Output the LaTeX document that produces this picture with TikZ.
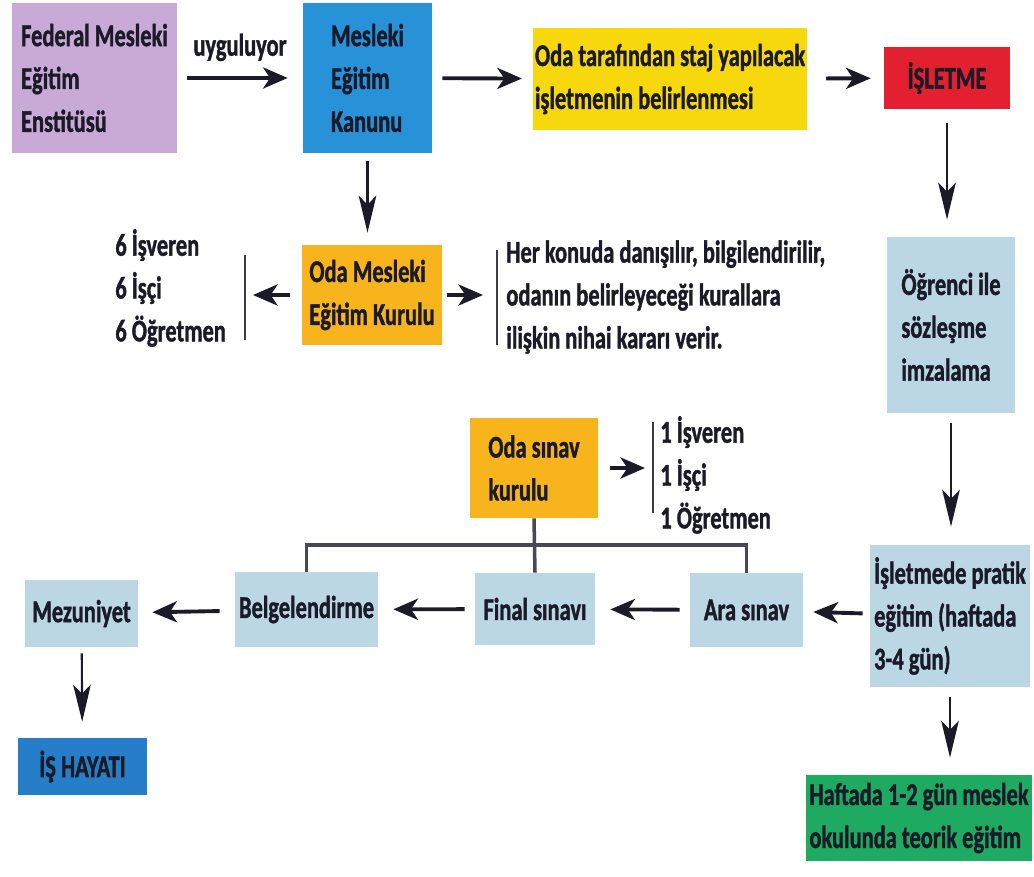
\documentclass[tikz,border=0pt]{standalone}
\usepackage{fontspec}
\setmainfont{Carlito}[FakeStretch=0.71,BoldFeatures={FakeBold=1.2}]
\usetikzlibrary{arrows.meta}

\definecolor{ink}{RGB}{26,26,40}
\definecolor{lila}{RGB}{201,170,214}
\definecolor{kanunblue}{RGB}{40,146,216}
\definecolor{odayellow}{RGB}{246,216,12}
\definecolor{islred}{RGB}{226,32,48}
\definecolor{kurulorange}{RGB}{247,180,28}
\definecolor{paleblue}{RGB}{186,215,227}
\definecolor{okulgreen}{RGB}{30,170,96}
\definecolor{hayatblue}{RGB}{38,126,200}

\begin{document}
\begin{tikzpicture}[x=0.02cm,y=-0.02cm,
  box/.style={inner sep=1pt,align=left,text=ink,font=\fontsize{18}{24.4}\selectfont\bfseries},
  sz/.style 2 args={minimum width=#1*0.02cm,minimum height=#2*0.02cm},
  txt/.style={inner sep=0pt,align=left,text=ink,font=\fontsize{18}{24.4}\selectfont\bfseries},
  harr/.style={line width=2.2pt,draw=ink,-{Stealth[length=14pt,width=12pt,inset=4pt]}},
  varr/.style={line width=1.2pt,draw=ink,-{Stealth[length=21pt,width=10pt,inset=5pt]}},
  vbar/.style={line width=1.2pt,draw=ink!85},
  rail/.style={line width=2pt,draw=ink!80}]
  \useasboundingbox (0,0) rectangle (1034,876);

  % top row
  \node[box,fill=lila,sz={165}{150}] (fed) at (94.5,78) {Federal Mesleki\\Eğitim\\Enstitüsü};
  \node[box,fill=kanunblue,sz={129}{150}] (mek) at (367.5,78) {Mesleki\\Eğitim\\Kanunu};
  \node[box,fill=odayellow,sz={268}{102}] (yel) at (670,79) {Oda tarafından staj yapılacak\\işletmenin belirlenmesi};
  \node[box,fill=islred,sz={126}{62}] (isl) at (947,78) {İŞLETME};

  % kurul row
  \node[box,fill=kurulorange,sz={140}{100}] (odak) at (372,295) {Oda Mesleki\\Eğitim Kurulu};
  \node[txt,anchor=west] (list6) at (115,288) {6 İşveren\\6 İşçi\\6 Öğretmen};
  \node[txt,anchor=west] (herk) at (506,297) {Her konuda danışılır, bilgilendirilir,\\odanın belirleyeceği kurallara\\ilişkin nihai kararı verir.};
  \coordinate (b6t) at (245,255);
  \coordinate (b6b) at (245,340);
  \coordinate (bht) at (497,250);
  \coordinate (bhb) at (497,345);

  % right column
  \node[box,fill=paleblue,sz={128}{176}] (ogr) at (951,325) {Öğrenci ile\\sözleşme\\imzalama};
  \node[box,fill=paleblue,sz={160}{142}] (prat) at (950,616) {İşletmede pratik\\eğitim (haftada\\3-4 gün)};
  \node[box,fill=okulgreen,sz={226}{86}] (okul) at (919,818) {Haftada 1-2 gün meslek\\okulunda teorik eğitim};

  % sinav kurulu
  \node[box,fill=kurulorange,sz={128}{100}] (odas) at (534,468) {Oda sınav\\kurulu};
  \node[txt,anchor=west] (list1) at (660,475) {1 İşveren\\1 İşçi\\1 Öğretmen};
  \coordinate (b1t) at (653,422);
  \coordinate (b1b) at (653,513);

  % bottom row
  \node[box,fill=paleblue,sz={113}{74}] (ara) at (746.5,610) {Ara sınav};
  \node[box,fill=paleblue,sz={120}{72}] (fin) at (535,609) {Final sınavı};
  \node[box,fill=paleblue,sz={143}{75}] (bel) at (306.5,609.5) {Belgelendirme};
  \node[box,fill=paleblue,sz={113}{67}] (mez) at (81.5,613.5) {Mezuniyet};
  \node[box,fill=hayatblue,sz={129}{57}] (ish) at (82.5,766.5) {İŞ HAYATI};
  \coordinate (railpt) at (0,545);

  % connectors
  \draw[harr,shorten <=0.2cm,shorten >=0.3cm] (fed) -- node[txt,above=0.3cm] (uyg) {uyguluyor} (mek);
  \draw[harr,shorten <=0.2cm,shorten >=0.22cm] (mek) -- (yel);
  \draw[harr,shorten <=0.38cm,shorten >=0.26cm] (yel) -- (isl);
  \draw[varr,shorten <=0.28cm,shorten >=0.34cm] (isl.south) -- (isl.south |- ogr.north);
  \draw[varr,shorten <=0.16cm,shorten >=0.24cm] (mek.south) -- (mek.south |- odak.north);
  \draw[vbar] (b6t) -- (b6b);
  \draw[vbar] (bht) -- (bhb);
  \draw[harr,shorten <=0.24cm,shorten >=0.16cm] (odak.west) -- (odak.west -| b6t);
  \draw[harr,shorten <=0.1cm,shorten >=0.28cm] (odak.east) -- (odak.east -| bht);
  \draw[varr,shorten <=0.2cm,shorten >=0.36cm] (ogr.south) -- (ogr.south |- prat.north);
  \draw[varr,shorten <=0.2cm,shorten >=0.34cm] (prat.south) -- (prat.south |- okul.north);
  \draw[harr,shorten <=0.14cm,shorten >=0.2cm] (prat) -- (ara);
  \draw[harr,shorten <=0.2cm,shorten >=0.3cm] (ara) -- (fin);
  \draw[harr,shorten <=0.2cm,shorten >=0.3cm] (fin) -- (bel);
  \draw[harr,shorten <=0.3cm,shorten >=0.28cm] (bel) -- (mez);
  \draw[varr,shorten <=0.12cm,shorten >=0.32cm] (mez) -- (ish);
  \draw[vbar] (b1t) -- (b1b);
  \draw[harr,shorten <=0.24cm,shorten >=0.16cm] (odas.east) -- (odas.east -| b1t);
  \draw[rail] (bel.north) -- (bel.north |- railpt) -- (ara.north |- railpt) -- (ara.north);
  \draw[rail] (odas.south) -- (fin.north);
\end{tikzpicture}
\end{document}
